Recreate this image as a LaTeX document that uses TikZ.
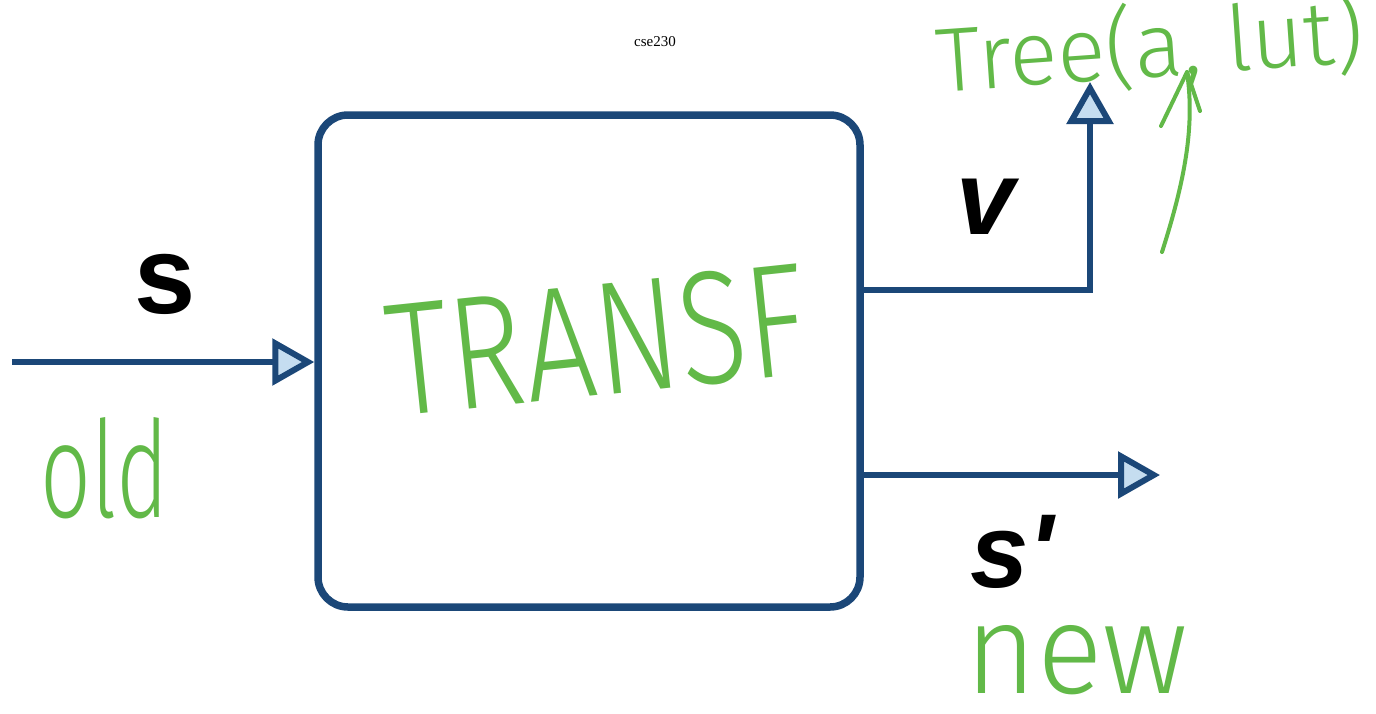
\documentclass[tikz,border=0pt]{standalone}
\usepackage{fontspec}
\setmainfont{Liberation Serif}
\newfontfamily\labelfont{Liberation Sans}
\newfontfamily\hand{Fira Sans Light}
\usetikzlibrary{arrows.meta}
\definecolor{dblue}{RGB}{27,71,120}
\definecolor{lblue}{RGB}{197,221,240}
\definecolor{hgreen}{RGB}{98,185,72}
\begin{document}
\begin{tikzpicture}[x=1pt,y=-1pt,
  blockbox/.style={draw=dblue, line width=7.5pt, rounded corners=30pt,
    minimum width=542pt, minimum height=492pt, inner sep=0pt},
  conn/.style={draw=dblue, line width=6pt,
    -{Triangle[length=42pt,width=46pt,fill=lblue,line join=miter]}},
  sym/.style={font=\labelfont\bfseries\fontsize{110}{110}\selectfont, inner sep=0pt},
  symit/.style={font=\labelfont\bfseries\itshape\fontsize{105}{105}\selectfont, inner sep=0pt},
  handtext/.style={text=hgreen, inner sep=0pt, font=\hand},
  handline/.style={draw=hgreen, line width=4pt, line cap=round, line join=round},
  title/.style={font=\fontsize{15}{15}\selectfont, inner sep=0pt}
]
\useasboundingbox (0,0) rectangle (1376,713);
\fill[white] (0,0) rectangle (1376,713);

\node[title] (ttl) at (655,42) {cse230};

\node[blockbox] (box) at (589,361) {};

% input
\coordinate (in) at (12,362);
\draw[conn] (in) -- (box.west |- in);

% output v (up)
\coordinate (vtip) at (1090,82);
\draw[conn] (box.east |- 0,290) -| (vtip);

% output s'
\coordinate (stip) at (1160,475);
\draw[conn] (box.east |- stip) -- (stip);

% labels
\node[sym] (lbls) at (165,284) {s};
\node[symit] (lblv) at (986,207) {v};
\node[symit] (lblsp) at (1012,552) {s'};

% handwritten annotations
\node[handtext, rotate=6] (transf) at (597,340) {\resizebox{420pt}{112pt}{TRANSF}};
\node[handtext] (old) at (105,468) {\resizebox{128pt}{100pt}{old}};
\node[handtext] (new) at (1077,660) {\resizebox{222pt}{68pt}{new}};
\node[handtext, rotate=4] (tree) at (1150,46) {\resizebox{428pt}{76pt}{Tree(a,~lut)}};

% hand-drawn arrow
\coordinate (gstart) at (1162,252);
\coordinate (gtip) at (1187,72);
\coordinate (gleft) at (1161,126);
\coordinate (gright) at (1200,111);
\draw[handline] (gstart) .. controls (1185,180) and (1195,126) .. (gtip);
\draw[handline] (gleft) -- (gtip) -- (gright);
\end{tikzpicture}
\end{document}
